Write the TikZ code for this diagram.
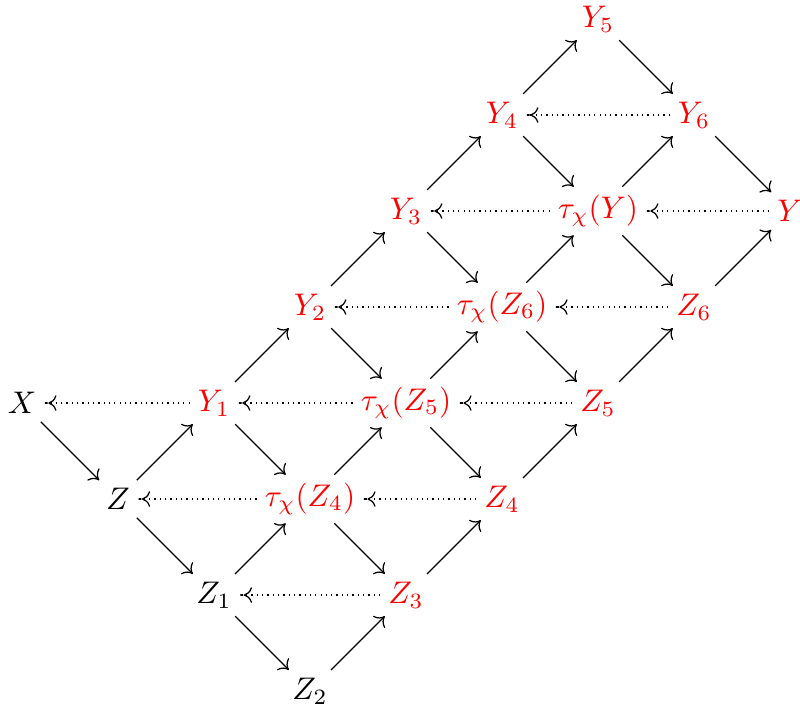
\documentclass[tikz,border=0pt]{standalone}
\usepackage{amsmath,amssymb}
\usepackage{tikz}
\usepackage{xcolor}
\usetikzlibrary{arrows.meta}
\definecolor{ink}{HTML}{000000}
\definecolor{newred}{HTML}{FF0000}
\tikzset{
  obj/.style={text=ink,inner sep=2.4pt},
  redobj/.style={text=newred,inner sep=2.4pt},
  mapto/.style={-{Computer Modern Rightarrow[length=2.8pt,width=5.4pt]},
                line width=0.4pt,draw=ink},
  backmap/.style={-{Computer Modern Rightarrow[length=2.6pt,width=5pt]
                   Rectangle[length=1.3pt,width=0.4pt]},
                  line width=0.4pt,draw=ink,dash pattern=on 0.4pt off 1.3pt}
}

\begin{document}
\begin{tikzpicture}[x=1.08cm,y=1.08cm]
    \path[use as bounding box] (-0.229,-3.156) rectangle (8.104,4.198);

    % bottom row of the grid
    \node[obj] (X) at (0,0) {$X$};
    \node[obj] (Z) at (1,-1) {$Z$};
    \node[obj] (Z1) at (2,-2) {$Z_1$};
    \node[obj] (Z2) at (3,-3) {$Z_2$};

    % second diagonal
    \node[redobj] (Y1) at (2,0) {$Y_1$};
    \node[redobj] (tZ4) at (3,-1) {$\tau_\chi(Z_4)$};
    \node[redobj] (Z3) at (4,-2) {$Z_3$};

    % third diagonal
    \node[redobj] (Y2) at (3,1) {$Y_2$};
    \node[redobj] (tZ5) at (4,0) {$\tau_\chi(Z_5)$};
    \node[redobj] (Z4) at (5,-1) {$Z_4$};

    % fourth diagonal
    \node[redobj] (Y3) at (4,2) {$Y_3$};
    \node[redobj] (tZ6) at (5,1) {$\tau_\chi(Z_6)$};
    \node[redobj] (Z5) at (6,0) {$Z_5$};

    % fifth diagonal
    \node[redobj] (Y4) at (5,3) {$Y_4$};
    \node[redobj] (tY) at (6,2) {$\tau_\chi(Y)$};
    \node[redobj] (Z6) at (7,1) {$Z_6$};

    % top diagonal
    \node[redobj] (Y5) at (6,4) {$Y_5$};
    \node[redobj] (Y6) at (7,3) {$Y_6$};
    \node[redobj] (Y) at (8,2) {$Y$};

    % maps going up and right
    \draw[mapto] (Z) -- (Y1);
    \draw[mapto] (Z1) -- (tZ4);
    \draw[mapto] (Z2) -- (Z3);
    \draw[mapto] (Y1) -- (Y2);
    \draw[mapto] (tZ4) -- (tZ5);
    \draw[mapto] (Z3) -- (Z4);
    \draw[mapto] (Y2) -- (Y3);
    \draw[mapto] (tZ5) -- (tZ6);
    \draw[mapto] (Z4) -- (Z5);
    \draw[mapto] (Y3) -- (Y4);
    \draw[mapto] (tZ6) -- (tY);
    \draw[mapto] (Z5) -- (Z6);
    \draw[mapto] (Y4) -- (Y5);
    \draw[mapto] (tY) -- (Y6);
    \draw[mapto] (Z6) -- (Y);

    % maps going down and right
    \draw[mapto] (X) -- (Z);
    \draw[mapto] (Z) -- (Z1);
    \draw[mapto] (Z1) -- (Z2);
    \draw[mapto] (Y1) -- (tZ4);
    \draw[mapto] (tZ4) -- (Z3);
    \draw[mapto] (Y2) -- (tZ5);
    \draw[mapto] (tZ5) -- (Z4);
    \draw[mapto] (Y3) -- (tZ6);
    \draw[mapto] (tZ6) -- (Z5);
    \draw[mapto] (Y4) -- (tY);
    \draw[mapto] (tY) -- (Z6);
    \draw[mapto] (Y5) -- (Y6);
    \draw[mapto] (Y6) -- (Y);

    % dotted maps going left
    \draw[backmap] (Y1) -- (X);
    \draw[backmap] (tZ4) -- (Z);
    \draw[backmap] (Z3) -- (Z1);
    \draw[backmap] (tZ5) -- (Y1);
    \draw[backmap] (Z4) -- (tZ4);
    \draw[backmap] (tZ6) -- (Y2);
    \draw[backmap] (Z5) -- (tZ5);
    \draw[backmap] (tY) -- (Y3);
    \draw[backmap] (Z6) -- (tZ6);
    \draw[backmap] (Y6) -- (Y4);
    \draw[backmap] (Y) -- (tY);
  \end{tikzpicture}
\end{document}
